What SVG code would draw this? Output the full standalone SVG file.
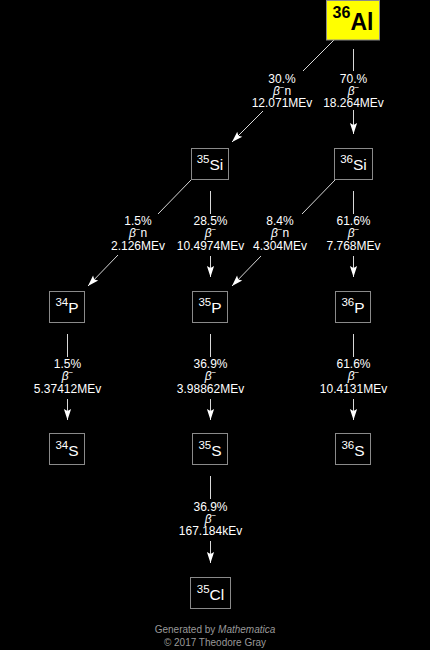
<svg xmlns="http://www.w3.org/2000/svg" width="430" height="650" viewBox="0 0 430 650">
<defs>
<marker id="ah" markerUnits="userSpaceOnUse" markerWidth="14" markerHeight="10" viewBox="-12 -5 13 10" refX="0" refY="0" orient="auto">
<path d="M0,0 L-11,-3.6 L-9,0 L-11,3.6 Z" fill="#ffffff"/>
</marker>
<style>
.box{fill:#000;stroke:#8a8a8a;stroke-width:1}
.al{fill:#ffff00;stroke:#8a8a8a;stroke-width:1}
.ln{stroke:#d8d8d8;stroke-width:1;fill:none}
.ar{stroke:#d8d8d8;stroke-width:1;fill:none;marker-end:url(#ah)}
.lbl{font-family:"Liberation Sans",Arial,sans-serif;font-size:12px;fill:#fff;text-anchor:middle}
.b{font-style:italic}
.m{font-size:8px}
.nuc{font-family:"Liberation Sans",Arial,sans-serif;font-size:15.5px;fill:#fff;text-anchor:middle}
.sup{font-size:11.5px}
.alt{font-family:"Liberation Sans",Arial,sans-serif;font-size:23px;font-weight:bold;fill:#000;text-anchor:middle}
.foot{font-family:"Liberation Sans",Arial,sans-serif;font-size:10px;fill:#999;text-anchor:middle}
</style>
</defs>
<rect x="0" y="0" width="430" height="650" fill="#000"/>

<g id="connectors">
<!-- Al -> 35Si -->
<line class="ln" x1="334" y1="40" x2="303" y2="71"/>
<line class="ar" x1="263" y1="111" x2="232" y2="142"/>
<text class="lbl" y="83"><tspan x="282">30.%</tspan><tspan x="282" dy="12" class="b">β</tspan><tspan class="m" dy="-5">−</tspan><tspan dy="5">n</tspan><tspan x="282" dy="12">12.071MEv</tspan></text>
<!-- Al -> 36Si -->
<line class="ln" x1="353.5" y1="49" x2="353.5" y2="71"/>
<line class="ar" x1="353.5" y1="110" x2="353.5" y2="134"/>
<text class="lbl" y="83"><tspan x="353.5">70.%</tspan><tspan x="353.5" dy="12" class="b">β</tspan><tspan class="m" dy="-5">−</tspan><tspan x="353.5" dy="17">18.264MEv</tspan></text>
<!-- 35Si -> 34P -->
<line class="ln" x1="191" y1="180" x2="158" y2="214"/>
<line class="ar" x1="118" y1="255" x2="88" y2="286"/>
<text class="lbl" y="225"><tspan x="138">1.5%</tspan><tspan x="138" dy="12" class="b">β</tspan><tspan class="m" dy="-5">−</tspan><tspan dy="5">n</tspan><tspan x="138" dy="13">2.126MEv</tspan></text>
<!-- 35Si -> 35P -->
<line class="ln" x1="210.5" y1="191" x2="210.5" y2="214"/>
<line class="ar" x1="210.5" y1="256" x2="210.5" y2="277"/>
<text class="lbl" y="225"><tspan x="210.5">28.5%</tspan><tspan x="210.5" dy="12" class="b">β</tspan><tspan class="m" dy="-5">−</tspan><tspan x="210.5" dy="18">10.4974MEv</tspan></text>
<!-- 36Si -> 35P -->
<line class="ln" x1="335" y1="180" x2="302" y2="214"/>
<line class="ar" x1="261" y1="256" x2="232" y2="286"/>
<text class="lbl" y="225"><tspan x="280">8.4%</tspan><tspan x="280" dy="12" class="b">β</tspan><tspan class="m" dy="-5">−</tspan><tspan dy="5">n</tspan><tspan x="280" dy="13">4.304MEv</tspan></text>
<!-- 36Si -> 36P -->
<line class="ln" x1="353.5" y1="191" x2="353.5" y2="214"/>
<line class="ar" x1="353.5" y1="256" x2="353.5" y2="277"/>
<text class="lbl" y="225"><tspan x="353.5">61.6%</tspan><tspan x="353.5" dy="12" class="b">β</tspan><tspan class="m" dy="-5">−</tspan><tspan x="353.5" dy="18">7.768MEv</tspan></text>
<!-- 34P -> 34S -->
<line class="ln" x1="67.5" y1="334" x2="67.5" y2="357"/>
<line class="ar" x1="67.5" y1="399" x2="67.5" y2="420"/>
<text class="lbl" y="368"><tspan x="67.5">1.5%</tspan><tspan x="67.5" dy="12" class="b">β</tspan><tspan class="m" dy="-5">−</tspan><tspan x="67.5" dy="18">5.37412MEv</tspan></text>
<!-- 35P -> 35S -->
<line class="ln" x1="210.5" y1="334" x2="210.5" y2="357"/>
<line class="ar" x1="210.5" y1="399" x2="210.5" y2="420"/>
<text class="lbl" y="368"><tspan x="210.5">36.9%</tspan><tspan x="210.5" dy="12" class="b">β</tspan><tspan class="m" dy="-5">−</tspan><tspan x="210.5" dy="18">3.98862MEv</tspan></text>
<!-- 36P -> 36S -->
<line class="ln" x1="353.5" y1="334" x2="353.5" y2="357"/>
<line class="ar" x1="353.5" y1="399" x2="353.5" y2="420"/>
<text class="lbl" y="368"><tspan x="353.5">61.6%</tspan><tspan x="353.5" dy="12" class="b">β</tspan><tspan class="m" dy="-5">−</tspan><tspan x="353.5" dy="18">10.4131MEv</tspan></text>
<!-- 35S -> 35Cl -->
<line class="ln" x1="210.5" y1="476" x2="210.5" y2="499"/>
<line class="ar" x1="210.5" y1="541" x2="210.5" y2="563"/>
<text class="lbl" y="511"><tspan x="210.5">36.9%</tspan><tspan x="210.5" dy="12" class="b">β</tspan><tspan class="m" dy="-5">−</tspan><tspan x="210.5" dy="17">167.184kEv</tspan></text>
</g>

<g id="Al36">
<rect class="al" x="326.5" y="0.5" width="53" height="39.5"/>
<text class="alt" x="353" y="30"><tspan font-size="16" dy="-12.5">36</tspan><tspan dy="12.5">Al</tspan></text>
</g>
<g id="Si35">
<rect class="box" x="191.5" y="148.5" width="37" height="31"/>
<text class="nuc" x="210" y="170"><tspan class="sup" dy="-7">35</tspan><tspan dy="7">Si</tspan></text>
</g>
<g id="Si36">
<rect class="box" x="334.5" y="148.5" width="38" height="31"/>
<text class="nuc" x="353.5" y="170"><tspan class="sup" dy="-7">36</tspan><tspan dy="7">Si</tspan></text>
</g>
<g id="P34">
<rect class="box" x="49.5" y="291.5" width="35" height="31"/>
<text class="nuc" x="67" y="312.5"><tspan class="sup" dy="-7">34</tspan><tspan dy="7">P</tspan></text>
</g>
<g id="P35">
<rect class="box" x="192.5" y="291.5" width="35" height="31"/>
<text class="nuc" x="210" y="312.5"><tspan class="sup" dy="-7">35</tspan><tspan dy="7">P</tspan></text>
</g>
<g id="P36">
<rect class="box" x="335.5" y="291.5" width="35" height="31"/>
<text class="nuc" x="353" y="312.5"><tspan class="sup" dy="-7">36</tspan><tspan dy="7">P</tspan></text>
</g>
<g id="S34">
<rect class="box" x="49.5" y="433.5" width="35" height="31"/>
<text class="nuc" x="67" y="456"><tspan class="sup" dy="-7">34</tspan><tspan dy="7">S</tspan></text>
</g>
<g id="S35">
<rect class="box" x="192.5" y="433.5" width="35" height="31"/>
<text class="nuc" x="210" y="456"><tspan class="sup" dy="-7">35</tspan><tspan dy="7">S</tspan></text>
</g>
<g id="S36">
<rect class="box" x="335.5" y="433.5" width="35" height="31"/>
<text class="nuc" x="353" y="456"><tspan class="sup" dy="-7">36</tspan><tspan dy="7">S</tspan></text>
</g>
<g id="Cl35">
<rect class="box" x="190.5" y="577.5" width="40" height="31"/>
<text class="nuc" x="210.5" y="599.5"><tspan class="sup" dy="-7">35</tspan><tspan dy="7">Cl</tspan></text>
</g>

<g id="footer">
<text class="foot" x="215" y="633">Generated by <tspan font-style="italic">Mathematica</tspan></text>
<text class="foot" x="215" y="646">© 2017 Theodore Gray</text>
</g>
</svg>
